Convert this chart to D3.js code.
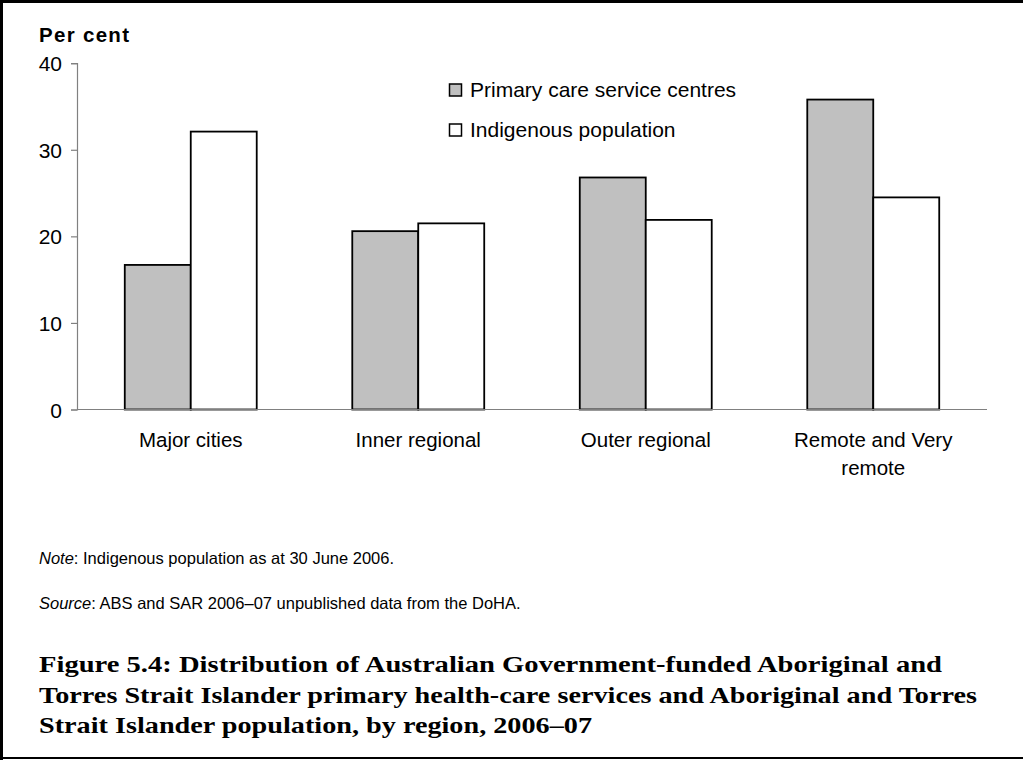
<!DOCTYPE html>
<html><head><meta charset="utf-8">
<script src="https://cdn.jsdelivr.net/npm/d3@7"></script>
<style>
html,body{margin:0;padding:0;background:#fff;}
svg{display:block;}
</style></head>
<body>
<svg id="c" width="1023" height="760"></svg>
<script>
const categories = [["Major cities"], ["Inner regional"], ["Outer regional"], ["Remote and Very", "remote"]];
const seriesNames = ["Primary care service centres", "Indigenous population"];
const primaryCare = [16.7, 20.6, 26.8, 35.8];
const indigenousPop = [32.1, 21.5, 21.9, 24.5];
const yTicks = [0, 10, 20, 30, 40];
const titleLines = [
  "Figure 5.4: Distribution of Australian Government-funded Aboriginal and",
  "Torres Strait Islander primary health-care services and Aboriginal and Torres",
  "Strait Islander population, by region, 2006\u201307"
];
const titleWidths = [903, 938, 553];

const svg = d3.select("#c");
const sans = "'Liberation Sans', Arial, sans-serif";
const x0 = 77, x1 = 987, yTop = 63.2, yBot = 409.5;

const y = d3.scaleLinear().domain([0, 40]).range([yBot, yTop]);
const x = d3.scaleBand().domain(d3.range(categories.length)).range([x0, x1]).paddingInner(0.42).paddingOuter(0.21);
const xs = d3.scaleBand().domain([0, 1]).range([0, x.bandwidth()]);

// border
svg.append("line").attr("x1",1.5).attr("x2",1.5).attr("y1",0).attr("y2",760).attr("stroke","#000").attr("stroke-width",3);
svg.append("line").attr("x1",0).attr("x2",1023).attr("y1",1.5).attr("y2",1.5).attr("stroke","#000").attr("stroke-width",3);
svg.append("line").attr("x1",0).attr("x2",1023).attr("y1",758).attr("y2",758).attr("stroke","#000").attr("stroke-width",2);

// y axis
const yAxis = d3.axisLeft(y).tickValues(yTicks).tickSize(6).tickPadding(9);
const gy = svg.append("g").attr("transform", `translate(${x0},0)`).call(yAxis);
gy.select(".domain").attr("stroke", "#808080").attr("stroke-width", 1.2);
gy.selectAll(".tick line").attr("stroke", "#808080").attr("stroke-width", 1.2);
gy.selectAll(".tick text").attr("font-family", sans).attr("font-size", 21).attr("fill","#000").attr("dy","0.36em");

// bars
const data = categories.map((c, i) => [primaryCare[i], indigenousPop[i]]);
const fills = ["#c0c0c0", "#ffffff"];
const groups = svg.append("g").selectAll("g").data(data).join("g")
  .attr("transform", (d, i) => `translate(${x(i)},0)`);
groups.selectAll("rect").data(d => d.map((v, k) => ({v, k}))).join("rect")
  .attr("x", d => xs(d.k)).attr("width", xs.bandwidth())
  .attr("y", d => y(d.v)).attr("height", d => y(0) - y(d.v))
  .attr("fill", d => fills[d.k]).attr("stroke", "#000").attr("stroke-width", 1.8);

// x axis line
svg.append("line").attr("x1", x0).attr("x2", x1).attr("y1", y(0)).attr("y2", y(0))
  .attr("stroke", "#808080").attr("stroke-width", 1.2);

// category labels
categories.forEach((lines, i) => {
  const t = svg.append("text").attr("font-family", sans).attr("font-size", 20.5)
    .attr("text-anchor", "middle").attr("x", x(i) + x.bandwidth() / 2).attr("y", 447);
  lines.forEach((l, j) => t.append("tspan").attr("x", x(i) + x.bandwidth() / 2).attr("dy", j ? 28 : 0).text(l));
});

// y title
svg.append("text").attr("x", 39).attr("y", 42).attr("font-family", sans).attr("font-weight", "bold")
  .attr("font-size", 20.5).attr("letter-spacing", 1.3).text("Per cent");

// legend
seriesNames.forEach((s, k) => {
  const ly = 84 + k * 40;
  svg.append("rect").attr("x", 449.5).attr("y", ly).attr("width", 12).attr("height", 12)
    .attr("fill", fills[k]).attr("stroke", "#000").attr("stroke-width", 1.5);
  svg.append("text").attr("x", 470).attr("y", ly + 13).attr("font-family", sans).attr("font-size", 21)
    .text(s);
});

// notes
const n1 = svg.append("text").attr("x", 39).attr("y", 564).attr("font-family", sans).attr("font-size", 16.5);
n1.append("tspan").attr("font-style", "italic").text("Note");
n1.append("tspan").text(": Indigenous population as at 30 June 2006.");
const n2 = svg.append("text").attr("x", 39).attr("y", 609).attr("font-family", sans).attr("font-size", 16.5);
n2.append("tspan").attr("font-style", "italic").text("Source");
n2.append("tspan").text(": ABS and SAR 2006\u201307 unpublished data from the DoHA.");

// title
titleLines.forEach((l, i) => {
  svg.append("text").attr("x", 39).attr("y", 672 + i * 30.5)
    .attr("font-family", "'Liberation Serif', 'Times New Roman', serif").attr("font-weight", "bold")
    .attr("font-size", 24).attr("textLength", titleWidths[i]).attr("lengthAdjust", "spacingAndGlyphs")
    .text(l);
});
</script>
</body></html>
